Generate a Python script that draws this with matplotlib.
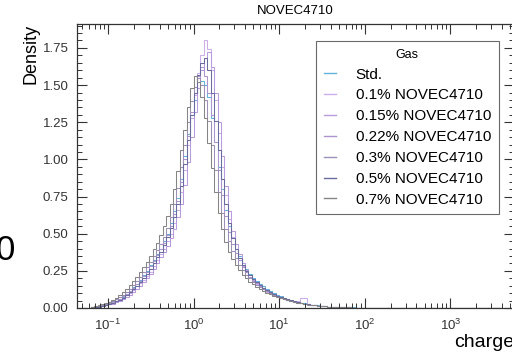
"""
plot.py - charge density for the NOVEC4710 gas mixtures (log-binned histograms).
"""

import numpy as np
import matplotlib
matplotlib.use("Agg")
import matplotlib.pyplot as plt
from matplotlib.lines import Line2D
from matplotlib.ticker import LogLocator, MultipleLocator, NullFormatter

plt.rcParams["font.family"] = ["Liberation Sans", "DejaVu Sans"]
plt.rcParams["mathtext.default"] = "regular"

# bin edges in log10(charge): 25 bins per decade from 10^-1.2 to 10^3.6
LOG_LO, LOG_HI, N_BINS = -1.2, 3.6, 120

labels = ["Std.", "0.1% NOVEC4710", "0.15% NOVEC4710", "0.22% NOVEC4710",
          "0.3% NOVEC4710", "0.5% NOVEC4710", "0.7% NOVEC4710"]
colors = ["#62b2de", "#cdaeec", "#bb9be0", "#ad96d0", "#9d8fb8", "#6a6b9f", "#858585"]

# densities of the first 70 bins (10^-1.2 .. 10^1.6)
std = [0.005, 0.008, 0.012, 0.015, 0.020, 0.028, 0.040, 0.048, 0.060, 0.075,
       0.095, 0.115, 0.140, 0.160, 0.190, 0.220, 0.250, 0.290, 0.320, 0.360,
       0.400, 0.450, 0.500, 0.570, 0.650, 0.740, 0.870, 1.020, 1.170, 1.300,
       1.400, 1.480, 1.530, 1.500, 1.420, 1.280, 1.120, 0.950, 0.800, 0.660,
       0.550, 0.470, 0.400, 0.350, 0.300, 0.265, 0.230, 0.205, 0.180, 0.160,
       0.145, 0.130, 0.115, 0.100, 0.090, 0.080, 0.070, 0.062, 0.054, 0.047,
       0.041, 0.036, 0.031, 0.027, 0.023, 0.020, 0.017, 0.014, 0.012, 0.010]
nv_010 = [0.010, 0.015, 0.010, 0.020, 0.025, 0.030, 0.035, 0.050, 0.055, 0.070,
          0.085, 0.100, 0.120, 0.145, 0.165, 0.190, 0.215, 0.245, 0.280, 0.320,
          0.360, 0.400, 0.450, 0.500, 0.570, 0.660, 0.780, 0.930, 1.100, 1.280,
          1.430, 1.580, 1.700, 1.800, 1.740, 1.600, 1.400, 1.180, 0.950, 0.760,
          0.600, 0.480, 0.400, 0.335, 0.285, 0.240, 0.210, 0.180, 0.160, 0.140,
          0.125, 0.110, 0.098, 0.088, 0.078, 0.070, 0.062, 0.055, 0.050, 0.045,
          0.045, 0.070, 0.065, 0.030, 0.022, 0.018, 0.015, 0.013, 0.011, 0.009]
nv_015 = [0.005, 0.010, 0.012, 0.015, 0.018, 0.025, 0.030, 0.040, 0.050, 0.060,
          0.075, 0.090, 0.110, 0.130, 0.150, 0.175, 0.200, 0.230, 0.265, 0.300,
          0.340, 0.380, 0.420, 0.470, 0.530, 0.610, 0.700, 0.830, 0.980, 1.150,
          1.320, 1.480, 1.600, 1.680, 1.720, 1.620, 1.450, 1.250, 1.020, 0.820,
          0.650, 0.520, 0.430, 0.360, 0.300, 0.255, 0.220, 0.190, 0.165, 0.145,
          0.130, 0.115, 0.100, 0.090, 0.080, 0.070, 0.062, 0.055, 0.048, 0.042,
          0.037, 0.032, 0.028, 0.024, 0.021, 0.018, 0.015, 0.013, 0.011, 0.009]
nv_022 = [0.008, 0.010, 0.015, 0.018, 0.022, 0.030, 0.038, 0.050, 0.062, 0.078,
          0.095, 0.115, 0.135, 0.160, 0.185, 0.215, 0.245, 0.280, 0.315, 0.355,
          0.395, 0.440, 0.490, 0.550, 0.630, 0.720, 0.850, 1.000, 1.160, 1.320,
          1.450, 1.560, 1.620, 1.560, 1.450, 1.300, 1.120, 0.930, 0.760, 0.620,
          0.510, 0.430, 0.370, 0.320, 0.275, 0.240, 0.210, 0.185, 0.165, 0.148,
          0.132, 0.118, 0.104, 0.092, 0.082, 0.072, 0.064, 0.056, 0.049, 0.043,
          0.038, 0.033, 0.029, 0.025, 0.022, 0.019, 0.016, 0.013, 0.011, 0.009]
nv_030 = [0.005, 0.010, 0.012, 0.018, 0.025, 0.032, 0.045, 0.058, 0.072, 0.090,
          0.110, 0.130, 0.155, 0.180, 0.210, 0.240, 0.275, 0.310, 0.350, 0.390,
          0.430, 0.480, 0.540, 0.610, 0.700, 0.810, 0.950, 1.100, 1.250, 1.390,
          1.490, 1.550, 1.500, 1.400, 1.260, 1.100, 0.930, 0.780, 0.640, 0.530,
          0.450, 0.385, 0.335, 0.290, 0.255, 0.225, 0.200, 0.178, 0.158, 0.140,
          0.125, 0.112, 0.100, 0.089, 0.079, 0.070, 0.062, 0.055, 0.048, 0.042,
          0.037, 0.032, 0.028, 0.024, 0.021, 0.018, 0.015, 0.013, 0.011, 0.009]
nv_050 = [0.005, 0.008, 0.010, 0.015, 0.020, 0.026, 0.035, 0.045, 0.056, 0.070,
          0.088, 0.105, 0.125, 0.150, 0.175, 0.200, 0.230, 0.265, 0.300, 0.340,
          0.380, 0.425, 0.475, 0.535, 0.610, 0.700, 0.820, 0.970, 1.130, 1.300,
          1.450, 1.570, 1.650, 1.680, 1.600, 1.450, 1.260, 1.060, 0.870, 0.700,
          0.570, 0.470, 0.395, 0.335, 0.290, 0.250, 0.220, 0.195, 0.172, 0.152,
          0.135, 0.120, 0.106, 0.094, 0.083, 0.074, 0.066, 0.058, 0.051, 0.045,
          0.039, 0.034, 0.030, 0.026, 0.022, 0.019, 0.016, 0.014, 0.012, 0.010]
nv_070 = [0.010, 0.012, 0.018, 0.025, 0.032, 0.042, 0.055, 0.070, 0.088, 0.108,
          0.130, 0.155, 0.180, 0.210, 0.240, 0.275, 0.310, 0.350, 0.395, 0.440,
          0.490, 0.550, 0.620, 0.700, 0.800, 0.920, 1.060, 1.200, 1.350, 1.480,
          1.560, 1.520, 1.420, 1.280, 1.110, 0.940, 0.780, 0.640, 0.530, 0.445,
          0.380, 0.330, 0.290, 0.255, 0.225, 0.200, 0.178, 0.160, 0.143, 0.128,
          0.115, 0.103, 0.092, 0.082, 0.073, 0.065, 0.058, 0.052, 0.046, 0.040,
          0.035, 0.031, 0.027, 0.023, 0.020, 0.017, 0.015, 0.013, 0.011, 0.009]

# high-charge tails (10^1.6 .. 10^3.6)
std_tail = [0.008, 0.007, 0.006, 0.005, 0.005, 0.004, 0.004, 0.003, 0.003, 0.003,
            0.003, 0.002, 0.003, 0.002, 0.002, 0.002, 0.003, 0.002, 0.002, 0.002,
            0.002, 0.003, 0.000, 0.002, 0.000, 0.003, 0.002, 0.000, 0.002, 0.000,
            0.003, 0.000, 0.002, 0.000, 0.000, 0.003, 0.000, 0.002, 0.000, 0.000,
            0.003, 0.000, 0.000, 0.002, 0.000, 0.000, 0.000, 0.002, 0.000, 0.000]
mix_tail = [0.008, 0.007, 0.006, 0.005, 0.004, 0.004, 0.003, 0.003, 0.003, 0.002,
            0.002, 0.002, 0.002, 0.001, 0.002, 0.001, 0.001, 0.001, 0.000, 0.001]


def full(core, tail):
    vals = np.zeros(N_BINS)
    vals[:len(core)] = core
    vals[len(core):len(core) + len(tail)] = tail
    return vals


series = [full(std, std_tail)] + [full(s, mix_tail) for s in
                                  (nv_010, nv_015, nv_022, nv_030, nv_050, nv_070)]
edges = 10 ** np.linspace(LOG_LO, LOG_HI, N_BINS + 1)

fig = plt.figure(figsize=(5.12, 3.55), dpi=100)
ax = fig.add_axes([77 / 512, 47 / 355, 437 / 512, 284 / 355])

for vals, col in zip(series, colors):
    ax.stairs(vals, edges, color=col, lw=0.75)

ax.set_xscale("log")
ax.set_xlim(10 ** -1.362, 10 ** 3.743)
ax.set_ylim(0, 1.911)

ax.xaxis.set_major_locator(LogLocator(base=10, numticks=10))
ax.xaxis.set_minor_locator(LogLocator(base=10, subs=np.arange(2, 10), numticks=20))
ax.xaxis.set_minor_formatter(NullFormatter())
ax.yaxis.set_major_locator(MultipleLocator(0.25))
ax.yaxis.set_minor_locator(MultipleLocator(0.05))
ax.tick_params(which="both", direction="in", top=True, right=True, colors="#333333")
ax.tick_params(which="major", length=7, width=0.8, labelsize=9.5, pad=6)
ax.tick_params(which="minor", length=3.5, width=0.7)
ax.tick_params(axis="x", which="major", pad=7)
for sp in ax.spines.values():
    sp.set_color("#333333")
    sp.set_linewidth(0.9)

ax.set_title("NOVEC4710", fontsize=9.5, pad=7)
ax.set_ylabel("Density", fontsize=13, loc="top")
ax.yaxis.set_label_coords(-0.085, 1.0)
ax.set_xlabel("charge", fontsize=14, loc="right")
ax.xaxis.set_label_coords(1.0, -0.09)

handles = [Line2D([], [], color=c, lw=1.0) for c in colors]
leg = ax.legend(handles, labels, title="Gas", loc="upper left",
                bbox_to_anchor=(239 / 437, 1 - 17 / 284),
                fontsize=11, title_fontsize=9, frameon=True, fancybox=False,
                handlelength=0.8, handletextpad=1.3, labelspacing=0.45,
                borderpad=0.5, borderaxespad=0)
leg.get_frame().set_edgecolor("#444444")
leg.get_frame().set_linewidth(0.8)

# large "0" cut at the left edge of the original figure
fig.text(-0.008, 1 - 250 / 355, "0", fontsize=25, va="center", ha="left")

fig.savefig("out.png", dpi=100)
